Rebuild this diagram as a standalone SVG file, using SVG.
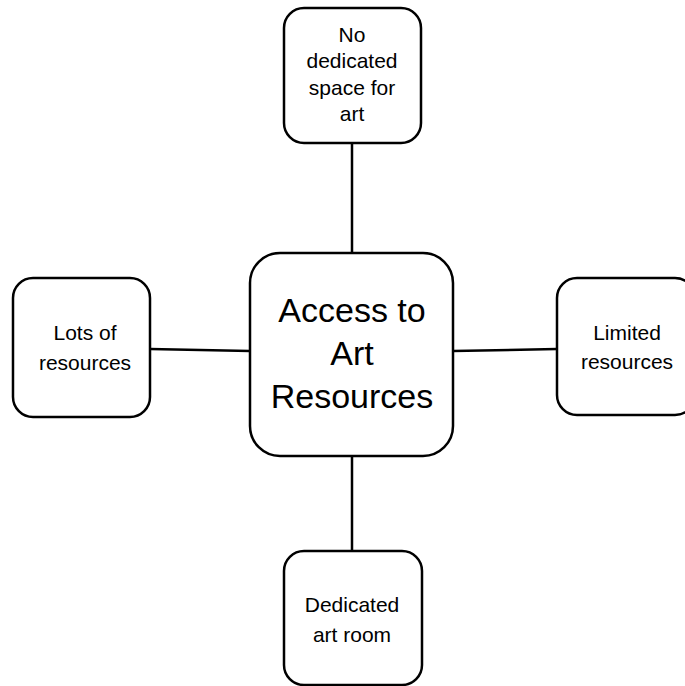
<svg xmlns="http://www.w3.org/2000/svg" width="685" height="686" viewBox="0 0 685 686">
<style>
.box{fill:#fff;stroke:#000;stroke-width:2.5}
.ln{stroke:#000;stroke-width:2.5;fill:none}
text{font-family:"Liberation Sans",Arial,sans-serif;fill:#000;text-anchor:middle}
.s{font-size:21px}
.b{font-size:34px}
</style>
<rect width="685" height="686" fill="#fff"/>
<g id="connectors">
<line class="ln" x1="352" y1="143" x2="352" y2="253"/>
<line class="ln" x1="352" y1="456" x2="352" y2="551"/>
<line class="ln" x1="150" y1="349" x2="250" y2="351"/>
<line class="ln" x1="453" y1="351" x2="557" y2="349"/>
</g>
<g id="center">
<rect class="box" x="250" y="253" width="203" height="203" rx="30"/>
<text class="b" x="352" y="322">Access to</text>
<text class="b" x="352" y="365">Art</text>
<text class="b" x="352" y="408">Resources</text>
</g>
<g id="top">
<rect class="box" x="284" y="8" width="137" height="135" rx="20"/>
<text class="s" x="352" y="42">No</text>
<text class="s" x="352" y="68">dedicated</text>
<text class="s" x="352" y="95">space for</text>
<text class="s" x="352" y="121">art</text>
</g>
<g id="left">
<rect class="box" x="13" y="278" width="137" height="139" rx="20"/>
<text class="s" x="85" y="340">Lots of</text>
<text class="s" x="85" y="370">resources</text>
</g>
<g id="right">
<rect class="box" x="557" y="278" width="138" height="137" rx="20"/>
<text class="s" x="627" y="340">Limited</text>
<text class="s" x="627" y="369">resources</text>
</g>
<g id="bottom">
<rect class="box" x="284" y="551" width="138" height="134" rx="20"/>
<text class="s" x="352" y="612">Dedicated</text>
<text class="s" x="352" y="642">art room</text>
</g>
</svg>
